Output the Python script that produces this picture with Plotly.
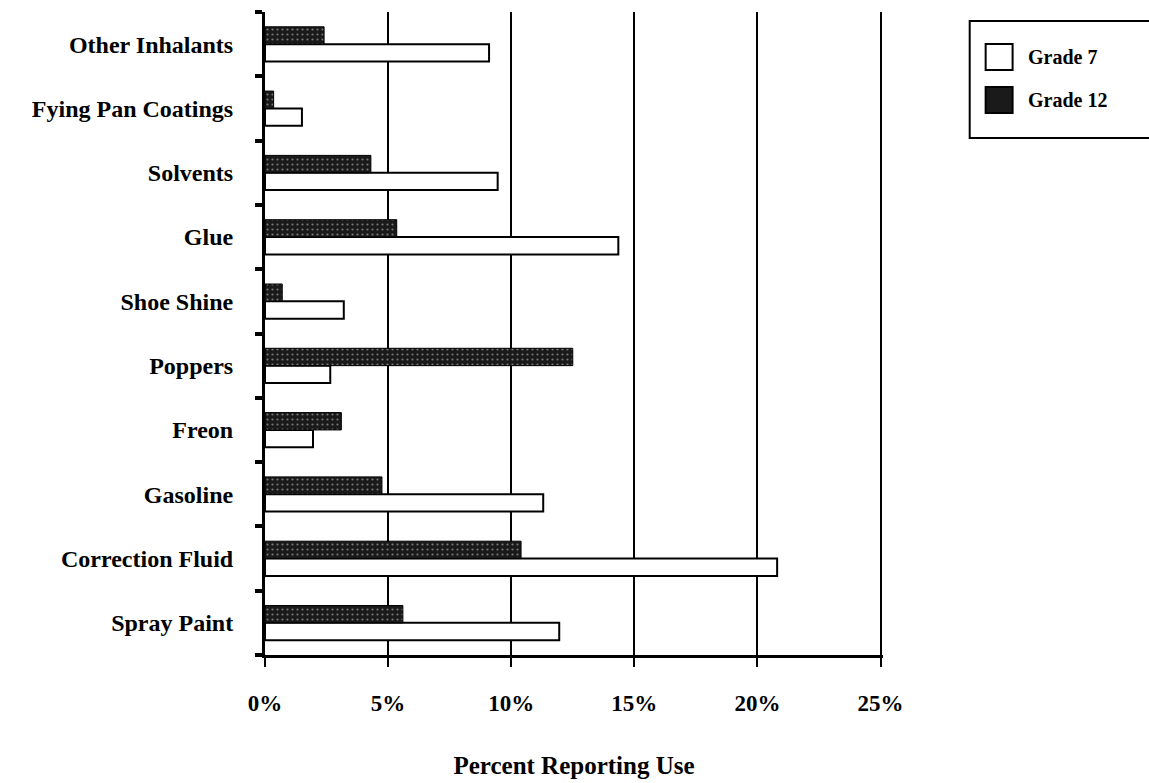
import plotly.graph_objects as go

# Inhalant use by substance, percent of students reporting use
categories = [
    "Spray Paint", "Correction Fluid", "Gasoline", "Freon", "Poppers",
    "Shoe Shine", "Glue", "Solvents", "Fying Pan Coatings", "Other Inhalants",
]
grade7 = [11.95, 20.8, 11.3, 1.95, 2.65, 3.2, 14.35, 9.45, 1.5, 9.1]
grade12 = [5.6, 10.4, 4.75, 3.1, 12.5, 0.7, 5.35, 4.3, 0.35, 2.4]
series_names = ["Grade 7", "Grade 12"]
x_ticks = [0, 5, 10, 15, 20, 25]
x_tick_labels = ["0%", "5%", "10%", "15%", "20%", "25%"]

SERIF = "Liberation Serif"
DARK = "#1a1a1a"

fig = go.Figure()
fig.add_trace(go.Bar(
    y=categories, x=grade7, orientation="h", name=series_names[0],
    marker=dict(color="white", line=dict(color="black", width=2)),
))
fig.add_trace(go.Bar(
    y=categories, x=grade12, orientation="h", name=series_names[1],
    marker=dict(
        color=DARK,
        line=dict(color="black", width=1),
        pattern=dict(shape=".", fgcolor="#d8d8d8", bgcolor=DARK,
                     size=5, solidity=0.15, fillmode="overlay"),
    ),
))

fig.update_layout(
    width=1149, height=783,
    margin=dict(l=265, r=266, t=12, b=128, autoexpand=False),
    paper_bgcolor="white", plot_bgcolor="white",
    barmode="group", bargap=0.46, bargroupgap=0,
    font=dict(family=SERIF, color="black", weight="bold"),
    showlegend=False,
    xaxis=dict(
        range=[0, 25.1], tickvals=x_ticks, ticktext=x_tick_labels,
        showgrid=True, gridcolor="black", gridwidth=2,
        zeroline=False, showline=True, linecolor="black", linewidth=3,
        ticks="outside", ticklen=9, tickwidth=2, tickcolor="black",
        ticklabelstandoff=16, automargin=False,
        tickfont=dict(family=SERIF, size=23, color="black", weight="bold"),
        title=dict(text="Percent Reporting Use", standoff=42,
                   font=dict(family=SERIF, size=25, color="black", weight="bold")),
        fixedrange=True,
    ),
    yaxis=dict(
        type="category", categoryorder="array", categoryarray=categories,
        tickson="boundaries", ticks="outside", ticklen=7, tickwidth=4,
        tickcolor="black", showline=True, linecolor="black", linewidth=3,
        showgrid=False, zeroline=False, ticklabelstandoff=24, automargin=False,
        tickfont=dict(family=SERIF, size=24, color="black", weight="bold"),
        fixedrange=True,
    ),
)

# Legend: framed key with a swatch and label per series
fig.add_shape(type="rect", xref="paper", yref="paper",
              x0=1.1403, x1=1.45, y0=0.804, y1=0.986,
              line=dict(color="black", width=2), fillcolor="rgba(0,0,0,0)")
swatch_fill = ["white", DARK]
swatch_rows = [(0.9502, 0.9098, 0.930), (0.8834, 0.8429, 0.863)]
for name, fill, (y_top, y_bot, y_mid) in zip(series_names, swatch_fill, swatch_rows):
    fig.add_shape(type="rect", xref="paper", yref="paper",
                  x0=1.1661, x1=1.2097, y0=y_bot, y1=y_top,
                  line=dict(color="black", width=2), fillcolor=fill)
    fig.add_annotation(xref="paper", yref="paper", x=1.2306, y=y_mid,
                       xanchor="left", yanchor="middle", showarrow=False,
                       text=name,
                       font=dict(family=SERIF, size=20, color="black", weight="bold"))

fig.write_html("out.html")
